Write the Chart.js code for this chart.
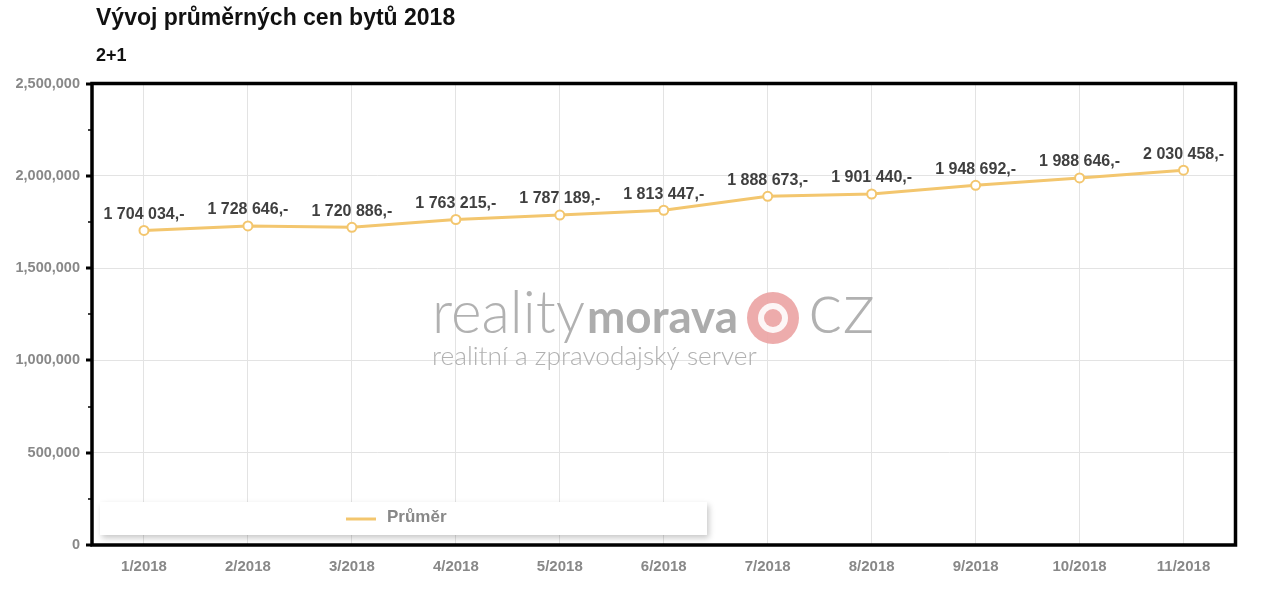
<!DOCTYPE html>
<html>
<head>
<meta charset="utf-8">
<title>Vývoj průměrných cen bytů 2018</title>
<script src="https://cdn.jsdelivr.net/npm/chart.js@4.4.1/dist/chart.umd.min.js"></script>
<style>
  html, body { margin: 0; padding: 0; background: #fff; }
  #chart { display: block; }
</style>
</head>
<body>
<canvas id="chart" width="1270" height="598"></canvas>
<script>
/* Vývoj průměrných cen bytů 2018 — 2+1 */

const chartTitle = 'Vývoj průměrných cen bytů 2018';
const chartSubtitle = '2+1';
const seriesLabel = 'Průměr';

const months = ['1/2018', '2/2018', '3/2018', '4/2018', '5/2018', '6/2018',
                '7/2018', '8/2018', '9/2018', '10/2018', '11/2018'];
const prices = [1704034, 1728646, 1720886, 1763215, 1787189, 1813447,
                1888673, 1901440, 1948692, 1988646, 2030458];

const yMin = 0, yMax = 2500000, yStep = 500000, yMinorStep = 250000;

const lineColor = '#f3c66e';
const FONT = '"Liberation Sans", Arial, Helvetica, sans-serif';

function fmtPrice(n) {
  return String(n).replace(/\B(?=(\d{3})+(?!\d))/g, ' ') + ',-';
}

// titles, watermark, point labels, frame, y ticks and legend box
const decorations = {
  id: 'decorations',
  beforeDatasetsDraw(chart) {
    const ctx = chart.ctx;
    ctx.save();
    ctx.globalAlpha = 0.9;
    const fit = (text, x, y, w, weight, family, color) => {
      ctx.font = `${weight} 100px ${family}`;
      const size = 100 * w / ctx.measureText(text).width;
      ctx.font = `${weight} ${size}px ${family}`;
      ctx.fillStyle = color;
      ctx.textAlign = 'left';
      ctx.textBaseline = 'alphabetic';
      ctx.fillText(text, x, y);
    };
    fit('reality', 432, 333, 153, 300, 'Lato, sans-serif', '#a9a9a9');
    fit('morava', 587, 333, 151, 700, 'Lato, sans-serif', '#a3a3a3');
    fit('cz', 808, 333, 67, 300, 'Lato, sans-serif', '#a9a9a9');
    fit('realitní a zpravodajský server', 432, 365, 325, 300, 'Lato, sans-serif', '#a9a9a9');
    ctx.fillStyle = '#eba3a3';
    ctx.beginPath(); ctx.arc(773, 318, 26, 0, Math.PI * 2); ctx.fill();
    ctx.fillStyle = '#fff';
    ctx.beginPath(); ctx.arc(773, 318, 15, 0, Math.PI * 2); ctx.fill();
    ctx.fillStyle = '#eba3a3';
    ctx.beginPath(); ctx.arc(773, 318, 9, 0, Math.PI * 2); ctx.fill();
    ctx.restore();
  },
  afterDatasetsDraw(chart) {
    const ctx = chart.ctx;
    const meta = chart.getDatasetMeta(0);
    ctx.save();
    ctx.font = `bold 16px ${FONT}`;
    ctx.fillStyle = '#404040';
    ctx.textAlign = 'center';
    ctx.textBaseline = 'middle';
    meta.data.forEach((pt, i) => {
      ctx.fillText(fmtPrice(prices[i]), pt.x, pt.y - 16);
    });
    ctx.restore();
  },
  afterDraw(chart) {
    const ctx = chart.ctx;
    const a = chart.chartArea;
    const y = chart.scales.y;
    ctx.save();

    // frame
    ctx.strokeStyle = '#000';
    ctx.lineWidth = 3.5;
    ctx.strokeRect(a.left, a.top, a.right - a.left, a.bottom - a.top);

    // y tick marks
    for (let v = yMin; v <= yMax; v += yMinorStep) {
      const py = Math.round(y.getPixelForValue(v));
      const major = v % yStep === 0;
      ctx.lineWidth = major ? 3 : 1.5;
      ctx.beginPath();
      ctx.moveTo(a.left - (major ? 6 : 4), py);
      ctx.lineTo(a.left, py);
      ctx.stroke();
    }

    // titles
    ctx.fillStyle = '#111';
    ctx.textAlign = 'left';
    ctx.textBaseline = 'alphabetic';
    ctx.font = `bold 23px ${FONT}`;
    ctx.fillText(chartTitle, 96, 25);
    ctx.font = `bold 18px ${FONT}`;
    ctx.fillText(chartSubtitle, 96, 61);

    // legend box
    ctx.save();
    ctx.shadowColor = 'rgba(0,0,0,0.22)';
    ctx.shadowBlur = 6;
    ctx.shadowOffsetX = 2;
    ctx.shadowOffsetY = 3;
    ctx.fillStyle = '#fff';
    ctx.fillRect(100, 502, 607, 33);
    ctx.restore();
    ctx.strokeStyle = lineColor;
    ctx.lineWidth = 3;
    ctx.beginPath();
    ctx.moveTo(346, 519);
    ctx.lineTo(376, 519);
    ctx.stroke();
    ctx.fillStyle = '#888';
    ctx.font = `bold 17px ${FONT}`;
    ctx.textBaseline = 'middle';
    ctx.fillText(seriesLabel, 387, 517);

    ctx.restore();
  }
};

new Chart(document.getElementById('chart'), {
  type: 'line',
  data: {
    labels: months,
    datasets: [{
      label: seriesLabel,
      data: prices,
      borderColor: lineColor,
      borderWidth: 3,
      tension: 0,
      pointRadius: 4.5,
      pointBorderWidth: 2,
      pointBackgroundColor: '#fff',
      pointBorderColor: lineColor
    }]
  },
  options: {
    responsive: false,
    animation: false,
    devicePixelRatio: 1,
    layout: { padding: { top: 83.5, right: 34.5, left: 0, bottom: 0 } },
    plugins: { legend: { display: false }, title: { display: false }, tooltip: { enabled: false } },
    scales: {
      x: {
        offset: true,
        grid: { offset: false, color: '#e3e3e3', drawTicks: false },
        border: { display: false },
        ticks: { color: '#888', font: { family: FONT, size: 15, weight: 'bold' }, padding: 13, maxRotation: 0 },
        afterFit(s) { s.height = 53; }
      },
      y: {
        min: yMin,
        max: yMax,
        grid: { color: '#e3e3e3', drawTicks: false },
        border: { display: false },
        ticks: {
          stepSize: yStep,
          color: '#888',
          padding: 12,
          font: { family: FONT, size: 14.5, weight: 'bold' },
          callback: v => v.toLocaleString('en-US')
        },
        afterFit(s) { s.width = 92; }
      }
    }
  },
  plugins: [decorations]
});
</script>
</body>
</html>
